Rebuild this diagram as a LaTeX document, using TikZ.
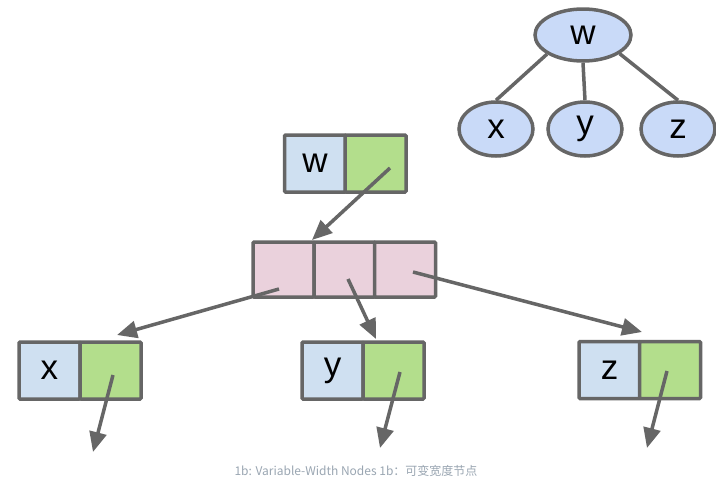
\documentclass[tikz,border=0pt]{standalone}
\usepackage{fontspec}
\setmainfont{Liberation Sans}
\newfontfamily\cjk{Noto Sans CJK SC}
\usetikzlibrary{arrows.meta,shapes.geometric}
\definecolor{edgec}{HTML}{666666}
\definecolor{bluec}{HTML}{CFE0F1}
\definecolor{greenc}{HTML}{B3DE8C}
\definecolor{pinkc}{HTML}{EAD1DC}
\definecolor{ellc}{HTML}{C9DAF8}
\definecolor{capc}{HTML}{9AA6B2}
\tikzset{
  lbl/.style={font=\fontsize{35}{40}\selectfont},
  cell/.style={draw=edgec, line width=3.5pt, minimum width=61pt, minimum height=57pt, inner sep=0pt, rounded corners=1pt, lbl},
  keycell/.style={cell, fill=bluec},
  ptrcell/.style={cell, fill=greenc},
  arrcell/.style={cell, fill=pinkc, minimum height=55pt},
  tnode/.style={ellipse, draw=edgec, line width=3.5pt, fill=ellc, inner sep=0pt, minimum width=74pt, minimum height=54pt, lbl},
  tedge/.style={draw=edgec, line width=3.5pt},
  ptr/.style={draw=edgec, line width=3.5pt, -{Triangle[length=20pt,width=17pt]}}
}
\begin{document}
\begin{tikzpicture}[x=1pt,y=-1pt]
\useasboundingbox[fill=white] (0,0) rectangle (716,482);
% tree
\node[tnode, minimum width=96pt, minimum height=52pt] (tw) at (583,35) {w};
\node[tnode] (tx) at (496,129) {x};
\node[tnode] (ty) at (585,129) {y};
\node[tnode] (tz) at (678,129) {z};
\draw[tedge] (tw.208) -- (tx.north);
\draw[tedge] (tw.south) -- (ty.north);
\draw[tedge] (tw.333) -- (tz.north);
% w box
\node[keycell] (wk) at (315,163.5) {w};
\node[ptrcell] (wp) at (375.5,163.5) {};
% array
\node[arrcell] (a1) at (283.5,269.5) {};
\node[arrcell] (a2) at (344.5,269.5) {};
\node[arrcell] (a3) at (405,269.5) {};
% children
\node[keycell] (xk) at (49.5,370.5) {x};
\node[ptrcell] (xp) at (110.5,370.5) {};
\node[keycell] (yk) at (332.5,370.5) {y};
\node[ptrcell] (yp) at (393.5,370.5) {};
\node[keycell] (zk) at (609.5,370) {z};
\node[ptrcell] (zp) at (670,370) {};
% pointer start/end coordinates
\coordinate (ws) at (390,168);
\coordinate (we) at (312,240);
\coordinate (a1s) at (279,289);
\coordinate (a1e) at (117,335);
\coordinate (a2s) at (348,279);
\coordinate (a2e) at (376,339);
\coordinate (a3s) at (413,272);
\coordinate (a3e) at (642,332);
\coordinate (xs) at (113,375);
\coordinate (xe) at (93,452);
\coordinate (ys) at (400,372);
\coordinate (ye) at (380,448);
\coordinate (zs) at (667,371);
\coordinate (ze) at (647,448);
\draw[ptr] (ws) -- (we);
\draw[ptr] (a1s) -- (a1e);
\draw[ptr] (a2s) -- (a2e);
\draw[ptr] (a3s) -- (a3e);
\draw[ptr] (xs) -- (xe);
\draw[ptr] (ys) -- (ye);
\draw[ptr] (zs) -- (ze);
% caption
\node[text=capc, font=\cjk\fontsize{12}{14}\selectfont, inner sep=0pt] (cap) at (356,471) {1b: Variable-Width Nodes 1b：可变宽度节点};
\end{tikzpicture}
\end{document}
